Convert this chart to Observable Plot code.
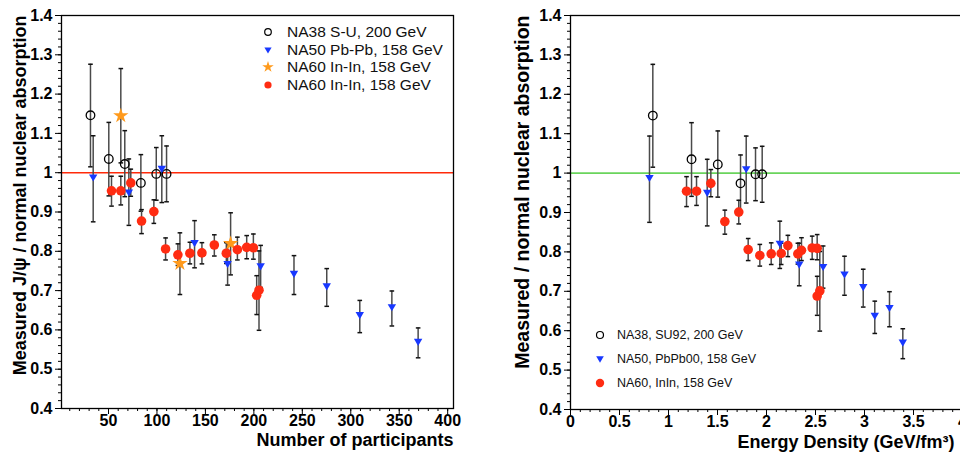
<!DOCTYPE html>
<html><head><meta charset="utf-8">
<script src="https://cdn.jsdelivr.net/npm/d3@7"></script>
<script src="https://cdn.jsdelivr.net/npm/@observablehq/plot@0.6"></script>
<style>
html,body{margin:0;padding:0;background:#fff;overflow:hidden;}
#wrap{position:relative;width:960px;height:464px;overflow:hidden;font-family:"Liberation Sans",Arial,sans-serif;background:#fff;}
#wrap > svg{position:absolute;top:0;}
.leg{position:absolute;white-space:nowrap;color:#111;}
.leg svg{position:absolute;}
.leg span{position:absolute;}
</style></head><body><div id="wrap"></div>
<script>
// ---------------- data ----------------
// NA38 S-U, 200 GeV (open circles)
const npartNA38 = [31.4, 50.3, 66.8, 83.4, 99.3, 109.9];
const epsNA38   = [0.84, 1.235, 1.503, 1.735, 1.888, 1.956];
const ratioNA38 = [1.146, 1.035, 1.022, 0.974, 0.997, 0.997];
const loNA38    = [1.015, 0.941, 0.939, 0.902, 0.930, 0.926];
const hiNA38    = [1.276, 1.128, 1.107, 1.046, 1.064, 1.068];
// NA50 Pb-Pb, 158 GeV (blue down triangles)
const npartNA50 = [34.2, 71, 105, 138.8, 172.9, 207, 241.4, 275.2, 309.3, 342.4, 369.5];
const epsNA50   = [0.806, 1.395, 1.793, 2.136, 2.334, 2.578, 2.796, 2.987, 3.105, 3.255, 3.391];
const ratioNA50 = [0.988, 0.950, 1.010, 0.821, 0.768, 0.762, 0.743, 0.711, 0.638, 0.658, 0.570];
const loNA50    = [0.875, 0.866, 0.924, 0.758, 0.714, 0.708, 0.690, 0.660, 0.593, 0.610, 0.529];
const hiNA50    = [1.094, 1.035, 1.094, 0.878, 0.822, 0.815, 0.789, 0.756, 0.675, 0.699, 0.605];
// NA60 In-In, 158 GeV (orange stars, left panel only)
const npartStar = [62.7, 123.7, 176];
const ratioStar = [1.145, 0.769, 0.820];
const loStar    = [1.025, 0.690, 0.740];
const hiStar    = [1.265, 0.847, 0.898];
// NA60 In-In, 158 GeV (red dots)
const npartNA60 = [53.1, 62.7, 73, 84.1, 96.8, 108.9, 121.6, 134, 146.4, 159.2, 171.6, 183, 192.6, 199.5, 202.9, 205.3];
const epsNA60   = [1.184, 1.286, 1.432, 1.575, 1.717, 1.813, 1.932, 2.048, 2.15, 2.218, 2.32, 2.357, 2.466, 2.517, 2.517, 2.544];
const ratioNA60 = [0.954, 0.954, 0.974, 0.877, 0.901, 0.806, 0.791, 0.795, 0.796, 0.816, 0.795, 0.804, 0.810, 0.809, 0.688, 0.701];
const loNA60    = [0.915, 0.918, 0.940, 0.845, 0.871, 0.778, 0.764, 0.768, 0.768, 0.788, 0.769, 0.778, 0.781, 0.780, 0.639, 0.599];
const hiNA60    = [0.991, 0.991, 1.009, 0.906, 0.931, 0.834, 0.819, 0.823, 0.822, 0.842, 0.822, 0.836, 0.840, 0.844, 0.738, 0.801];
// reference line and ticks
const reference = [1];
const yTicks = [0.4, 0.5, 0.6, 0.7, 0.8, 0.9, 1, 1.1, 1.2, 1.3, 1.4];
const xTicksLeft = [50, 100, 150, 200, 250, 300, 350, 400];
const xTicksRight = [0, 0.5, 1, 1.5, 2, 2.5, 3, 3.5, 4];
const legendLeft = ["NA38 S-U, 200 GeV", "NA50 Pb-Pb, 158 GeV", "NA60 In-In, 158 GeV", "NA60 In-In, 158 GeV"];
const legendRight = ["NA38, SU92, 200 GeV", "NA50, PbPb00, 158 GeV", "NA60, InIn, 158 GeV"];
const yTitleLeft = "Measured J/\u03c8 / normal nuclear absorption";
const yTitleRight = "Measured / normal nuclear absorption";
const xTitleLeft = "Number of participants";
const xTitleRight = "Energy Density (GeV/fm\u00b3)";

// ---------------- build ----------------
const rows = (xs, es, rs, los, his) => xs.map((n, i) => ({npart: n, eps: es ? es[i] : null, r: rs[i], lo: los[i], hi: his[i]}));
const na38 = rows(npartNA38, epsNA38, ratioNA38, loNA38, hiNA38);
const na50 = rows(npartNA50, epsNA50, ratioNA50, loNA50, hiNA50);
const star = rows(npartStar, null, ratioStar, loStar, hiStar);
const na60 = rows(npartNA60, epsNA60, ratioNA60, loNA60, hiNA60);

const C = {na38: "#000000", na50: "#1838ff", star: "#ff9a1c", na60: "#ff2c12", red: "#ff2a0a", green: "#6ad45c"};
const triDown = {draw(ctx, size) { const r = Math.sqrt(size / Math.PI); ctx.moveTo(-r, -r * 0.7); ctx.lineTo(r, -r * 0.7); ctx.lineTo(0, r * 1.0); ctx.closePath(); }};
const cap = {draw(ctx, size) { const r = Math.sqrt(size / Math.PI); ctx.moveTo(-r, 0); ctx.lineTo(r, 0); }};
const fmt = d => String(+(+d).toFixed(2));
const minor = (a, b, s) => d3.range(Math.round(a / s), Math.round(b / s) + 1).map(k => +(k * s).toFixed(3));

function errs(data, xKey) {
  return [
    Plot.ruleX(data, {x: xKey, y1: "lo", y2: "hi", stroke: "#4a4a4a", strokeWidth: 1.5}),
    Plot.dot(data, {x: xKey, y: "lo", symbol: cap, r: 2.3, stroke: "#111", strokeWidth: 1.5, fill: "none"}),
    Plot.dot(data, {x: xKey, y: "hi", symbol: cap, r: 2.3, stroke: "#111", strokeWidth: 1.5, fill: "none"})
  ];
}
function axes(xTicks, xMinor) {
  return [
    Plot.axisY(yTicks, {anchor: "left", tickSize: 6, tickPadding: 3, tickFormat: fmt, label: null}),
    Plot.axisY(minor(0.4, 1.4, 0.02), {anchor: "left", tickSize: 3, fill: "none", label: null}),
    Plot.axisX(xTicks, {anchor: "bottom", tickSize: 6, tickPadding: 0, tickFormat: fmt, label: null}),
    Plot.axisX(xMinor, {anchor: "bottom", tickSize: 3, fill: "none", label: null}),
    Plot.frame({stroke: "#000", strokeWidth: 1.3})
  ];
}
const svgStyle = "font-family:'Liberation Sans',Arial,sans-serif;font-size:16px;font-weight:bold;background:transparent;overflow:visible;";

const left = Plot.plot({
  width: 480, height: 464,
  marginLeft: 61, marginRight: 27, marginTop: 15, marginBottom: 56,
  style: svgStyle,
  x: {domain: [1.5, 406]},
  y: {domain: [0.4, 1.4]},
  marks: [
    Plot.ruleY(reference, {stroke: C.red, strokeWidth: 1.6}),
    ...errs(na38, "npart"), ...errs(na50, "npart"), ...errs(star, "npart"), ...errs(na60, "npart"),
    Plot.dot(na38, {x: "npart", y: "r", r: 4.3, stroke: C.na38, strokeWidth: 1.3, fill: "none"}),
    Plot.dot(na50, {x: "npart", y: "r", symbol: triDown, r: 4.2, fill: C.na50}),
    Plot.dot(star, {x: "npart", y: "r", symbol: "star", r: 4.8, fill: C.star}),
    Plot.dot(na60, {x: "npart", y: "r", r: 4.8, fill: C.na60}),
    ...axes(xTicksLeft, minor(10, 400, 10)),
    Plot.text([yTitleLeft], {frameAnchor: "top-left", rotate: -90, textAnchor: "end", dx: -48, dy: 0, fontSize: 18, fontWeight: "bold"}),
    Plot.text([xTitleLeft], {frameAnchor: "bottom-right", textAnchor: "end", dy: 37, fontSize: 18, fontWeight: "bold"})
  ]
});

const right = Plot.plot({
  width: 490, height: 464,
  marginLeft: 90, marginRight: 8, marginTop: 15, marginBottom: 55,
  style: svgStyle,
  x: {domain: [0, 4]},
  y: {domain: [0.4, 1.4]},
  marks: [
    Plot.ruleY(reference, {stroke: C.green, strokeWidth: 1.8}),
    ...errs(na38, "eps"), ...errs(na50, "eps"), ...errs(na60, "eps"),
    Plot.dot(na38, {x: "eps", y: "r", r: 4.3, stroke: C.na38, strokeWidth: 1.3, fill: "none"}),
    Plot.dot(na50, {x: "eps", y: "r", symbol: triDown, r: 4.2, fill: C.na50}),
    Plot.dot(na60, {x: "eps", y: "r", r: 4.8, fill: C.na60}),
    ...axes(xTicksRight, minor(0, 4, 0.1)),
    Plot.text([yTitleRight], {frameAnchor: "top-left", rotate: -90, textAnchor: "end", dx: -55, dy: 0, fontSize: 19.5, fontWeight: "bold"}),
    Plot.text([xTitleRight], {frameAnchor: "bottom-right", textAnchor: "end", dx: -8, dy: 38, fontSize: 18, fontWeight: "bold"})
  ]
});

const wrap = document.getElementById("wrap");
left.style.left = "0px";
right.style.left = "480px";
wrap.appendChild(left);
wrap.appendChild(right);

// ---------------- legends (HTML overlays) ----------------
const legSym = {
  circle: (s) => `<circle cx="7" cy="7" r="${s}" fill="none" stroke="${C.na38}" stroke-width="1.2"/>`,
  tri: (s) => `<path d="M${7 - s},${7 - s * 0.7}L${7 + s},${7 - s * 0.7}L7,${7 + s}Z" fill="${C.na50}"/>`,
  star: (s) => `<path transform="translate(7,7)" d="${d3.symbol(d3.symbolStar, s * s * Math.PI)()}" fill="${C.star}"/>`,
  dot: (s) => `<circle cx="7" cy="7" r="${s}" fill="${C.na60}"/>`
};
function legend(labels, syms, sizes, {mx, tx, ys, fs}) {
  labels.forEach((lab, i) => {
    const d = document.createElement("div");
    d.className = "leg";
    d.style.left = "0px"; d.style.top = (ys[i] - 10) + "px";
    d.style.fontSize = fs + "px"; d.style.lineHeight = "20px"; d.style.height = "20px";
    d.innerHTML = `<svg width="14" height="14" style="left:${mx - 7}px;top:3px">${legSym[syms[i]](sizes[i])}</svg><span style="left:${tx}px;top:0">${lab}</span>`;
    wrap.appendChild(d);
  });
}
legend(legendLeft, ["circle", "tri", "star", "dot"], [3.3, 3.6, 3.6, 3.6], {mx: 268, tx: 287, ys: [32, 49.5, 67, 84.5], fs: 15.5});
legend(legendRight, ["circle", "tri", "dot"], [3.5, 3.8, 4.2], {mx: 600, tx: 617, ys: [335, 359, 383], fs: 12.5});
</script></body></html>
